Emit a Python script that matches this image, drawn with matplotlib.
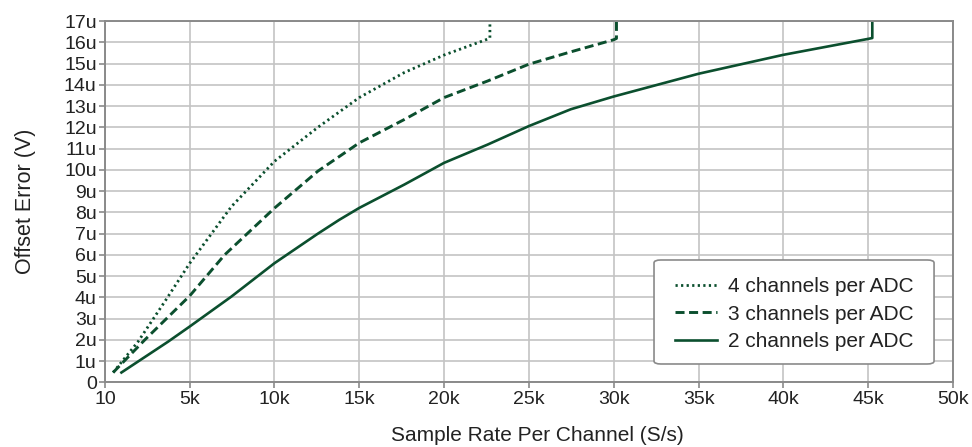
import matplotlib
matplotlib.use("Agg")
import matplotlib.pyplot as plt
from matplotlib.patches import FancyBboxPatch
from matplotlib.ticker import FixedLocator

# Offset error vs sample rate per channel
# rates in S/s, offsets in microvolts

rate_4ch = [490, 1960, 3530, 5000, 7460, 10000, 12560, 15000, 17660, 20000, 22570, 22700, 22700]
off_4ch = [0.47, 1.92, 3.8, 5.6, 8.27, 10.4, 12.0, 13.4, 14.58, 15.4, 16.15, 16.2, 17.5]

rate_3ch = [490, 2350, 5000, 7060, 10000, 12560, 15000, 17660, 20000, 22570, 25000, 27470, 30000, 30160, 30160]
off_3ch = [0.47, 2.0, 4.07, 6.0, 8.2, 9.94, 11.27, 12.37, 13.4, 14.18, 14.97, 15.55, 16.12, 16.18, 17.5]

rate_2ch = [980, 3730, 5000, 7460, 10000, 12560, 13820, 15000, 17660, 20000, 22570, 25000, 27470,
            30000, 35000, 40000, 45000, 45240, 45240]
off_2ch = [0.47, 1.92, 2.63, 4.04, 5.61, 7.0, 7.65, 8.21, 9.31, 10.33, 11.19, 12.06, 12.85,
           13.45, 14.52, 15.41, 16.16, 16.2, 17.5]

x_ticks = [10, 5000, 10000, 15000, 20000, 25000, 30000, 35000, 40000, 45000, 50000]
x_labels = ["10", "5k", "10k", "15k", "20k", "25k", "30k", "35k", "40k", "45k", "50k"]
y_ticks = list(range(0, 18))
y_labels = ["0"] + ["%du" % v for v in range(1, 18)]

plt.rcParams["font.family"] = ["Liberation Sans", "DejaVu Sans"]
green = "#0b4f2e"
txt = "#222222"

fig = plt.figure(figsize=(9.72, 4.47), dpi=100)
ax = fig.add_axes([0.108, 0.1443, 0.8725, 0.8087])

ax.plot(rate_4ch, off_4ch, color=green, lw=2.0, ls=(0, (0.8, 1.2)), dash_capstyle="butt",
        label="4 channels per ADC")
ax.plot(rate_3ch, off_3ch, color=green, lw=2.1, ls=(0, (3.1, 1.55)), label="3 channels per ADC")
ax.plot(rate_2ch, off_2ch, color=green, lw=1.9, ls="-", label="2 channels per ADC")

ax.set_xlim(10, 50000)
ax.set_ylim(0, 17)
ax.xaxis.set_major_locator(FixedLocator(x_ticks))
ax.set_xticklabels(x_labels)
ax.yaxis.set_major_locator(FixedLocator(y_ticks))
ax.set_yticklabels(y_labels)

ax.grid(True, color="#c4c4c4", lw=1.2)
ax.set_axisbelow(True)
for s in ax.spines.values():
    s.set_color("#8a8a8a")
    s.set_linewidth(1.4)
ax.tick_params(colors="#8a8a8a", labelcolor=txt, labelsize=14, length=4, width=1.2, pad=2)

ax.set_xlabel("Sample Rate Per Channel (S/s)", fontsize=15, color=txt)
ax.xaxis.set_label_coords(0.51, -0.12)
ax.set_ylabel("Offset Error (V)", fontsize=15.5, color=txt)
ax.yaxis.set_label_coords(-0.081, 0.5)

# legend box drawn by hand so the padding matches the original
box = FancyBboxPatch((0.6474, 0.0512), 0.3302, 0.2877, boxstyle="round,pad=0,rounding_size=0.008",
                     transform=ax.transAxes, facecolor="white", edgecolor="#8a8a8a", lw=1.2, zorder=4)
ax.add_patch(box)
leg = ax.legend(loc="upper left", bbox_to_anchor=(0.672, 0.292), borderaxespad=0, borderpad=0,
                fontsize=15, handlelength=2.0, handletextpad=0.55, labelspacing=0.42, frameon=False)
leg.set_zorder(5)
for t in leg.get_texts():
    t.set_color(txt)

fig.savefig("out.png", dpi=100)
